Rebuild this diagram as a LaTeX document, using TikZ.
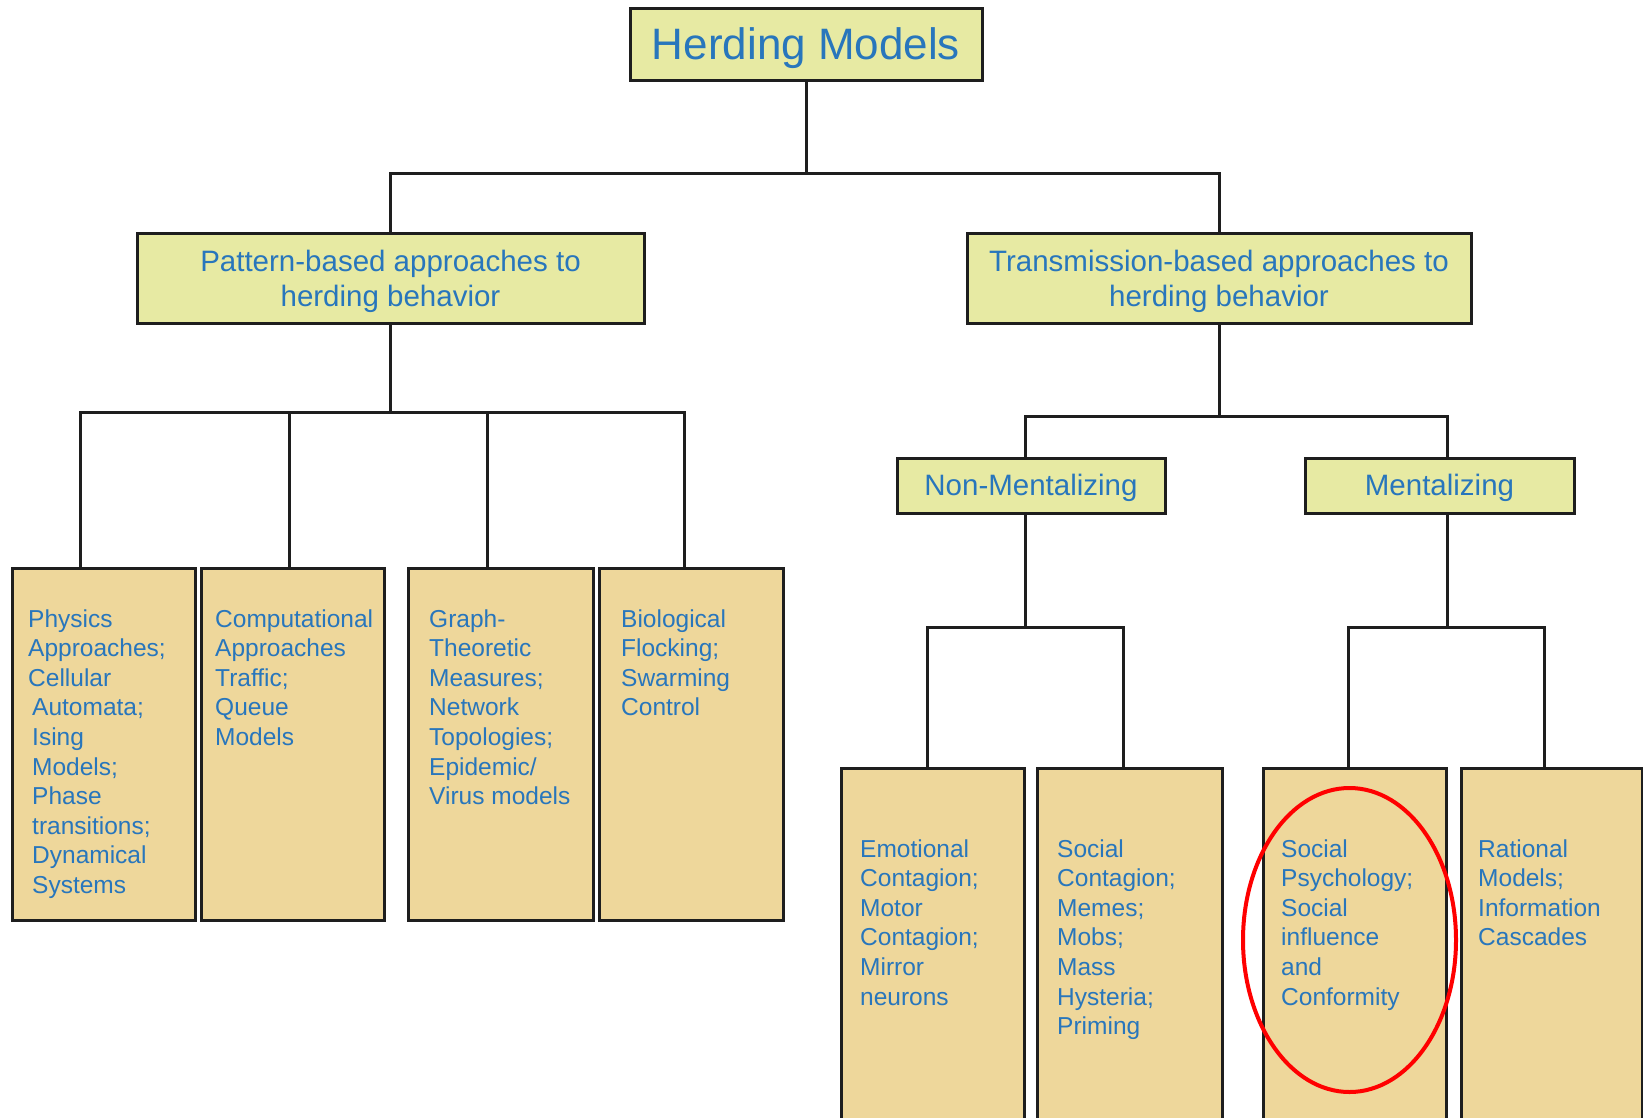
\documentclass[tikz,border=0pt]{standalone}
\usepackage{fontspec}
\setmainfont{Liberation Sans}
\usetikzlibrary{shapes.geometric}
\definecolor{hdrfill}{RGB}{231,234,163}
\definecolor{leaffill}{RGB}{238,215,155}
\definecolor{txtblue}{RGB}{40,118,188}
\definecolor{edge}{RGB}{30,30,30}
\begin{document}
\begin{tikzpicture}[x=1pt,y=-1pt,
  hdr/.style={draw=edge, line width=3pt, fill=hdrfill, inner sep=0pt, text=txtblue, align=center},
  leaf/.style={draw=edge, line width=3pt, fill=leaffill, inner sep=0pt},
  leaftxt/.style={anchor=base west, inner sep=0pt, text=txtblue},
  conn/.style={draw=edge, line width=3pt},
  hfont/.style={font=\fontsize{29.5}{35.5}\selectfont}]
\useasboundingbox (0,0) rectangle (1643,1117);
\clip (0,0) rectangle (1643,1117);
\fill[white] (0,0) rectangle (1643,1117);
\newcommand{\lf}[2]{\parbox[t]{#1}{\raggedright\fontsize{24.5}{29.6}\selectfont #2}}
\newcommand{\dn}[2]{\raisebox{0pt}[\dimexpr\height+#1\relax][\depth]{\begin{tabular}{@{}c@{}}#2\end{tabular}}}

% header boxes
\node[hdr, minimum width=352pt, minimum height=72pt, font=\fontsize{44}{50}\selectfont] (herd) at (806,44) {\dn{10pt}{Herding Models}};
\node[hdr, hfont, minimum width=507pt, minimum height=90pt] (pat) at (390.5,278) {\dn{8pt}{Pattern-based approaches to\\herding behavior}};
\node[hdr, hfont, minimum width=504pt, minimum height=90pt] (trans) at (1219,278) {\dn{8pt}{Transmission-based approaches to\\herding behavior}};
\node[hdr, hfont, minimum width=268pt, minimum height=55pt] (nonm) at (1031,485.5) {\dn{6pt}{Non-Mentalizing}};
\node[hdr, hfont, minimum width=269pt, minimum height=55pt] (ment) at (1439.5,485.5) {\dn{6pt}{Mentalizing}};

% left leaves
\node[leaf, minimum width=183pt, minimum height=352pt] (l1) at (103.5,744) {};
\node[leaf, minimum width=183pt, minimum height=352pt] (l2) at (292.5,744) {};
\node[leaf, minimum width=185pt, minimum height=352pt] (l3) at (500.5,744) {};
\node[leaf, minimum width=184pt, minimum height=352pt] (l4) at (691,744) {};
% right leaves
\node[leaf, minimum width=183pt, minimum height=362pt] (r1) at (932.5,949) {};
\node[leaf, minimum width=185pt, minimum height=362pt] (r2) at (1129.5,949) {};
\node[leaf, minimum width=183pt, minimum height=362pt] (r3) at (1354.5,949) {};
\node[leaf, minimum width=181pt, minimum height=362pt] (r4) at (1551.5,949) {};

% leaf texts
\node[leaftxt] (t1) at (28,627) {\lf{165pt}{Physics\\Approaches;\\Cellular\\\hspace*{4pt}Automata;\\\hspace*{4pt}Ising\\\hspace*{4pt}Models;\\\hspace*{4pt}Phase\\\hspace*{4pt}transitions;\\\hspace*{4pt}Dynamical\\\hspace*{4pt}Systems}};
\node[leaftxt] (t2) at (215,627) {\lf{168pt}{Computational\\Approaches\\Traffic;\\Queue\\Models}};
\node[leaftxt] (t3) at (429,627) {\lf{164pt}{Graph-\\Theoretic\\Measures;\\Network\\Topologies;\\Epidemic/\\Virus models}};
\node[leaftxt] (t4) at (621,627) {\lf{160pt}{Biological\\Flocking;\\Swarming\\Control}};
\node[leaftxt] (t5) at (860,857) {\lf{160pt}{Emotional\\Contagion;\\Motor\\Contagion;\\Mirror\\neurons}};
\node[leaftxt] (t6) at (1057,857) {\lf{160pt}{Social\\Contagion;\\Memes;\\Mobs;\\Mass\\Hysteria;\\Priming}};
\node[leaftxt] (t7) at (1281,857) {\lf{160pt}{Social\\Psychology;\\Social\\influence\\and\\Conformity}};
\node[leaftxt] (t8) at (1478,857) {\lf{160pt}{Rational\\Models;\\Information\\Cascades}};

% junction coordinates
\coordinate (j0) at (806,173);
\coordinate (jp) at (390.5,412);
\coordinate (jt) at (1219,416);
\coordinate (jn) at (1025,627);
\coordinate (jm) at (1447,627);

% connectors
\draw[conn] (herd.south) -- (j0);
\draw[conn] (pat.north) -- (pat.north |- j0) -- (trans.north |- j0) -- (trans.north);

\draw[conn] (pat.south) -- (jp);
\draw[conn] (80,412 |- l1.north) -- (80,412) -- (684,412) -- (684,412 |- l4.north);
\draw[conn] (289,412) -- (289,412 |- l2.north);
\draw[conn] (487,412) -- (487,412 |- l3.north);

\draw[conn] (trans.south) -- (jt);
\draw[conn] (1025,416 |- nonm.north) -- (1025,416) -- (1447,416) -- (1447,416 |- ment.north);

\draw[conn] (1025,416 |- nonm.south) -- (jn);
\draw[conn] (927,627 |- r1.north) -- (927,627) -- (1123,627) -- (1123,627 |- r2.north);

\draw[conn] (1447,416 |- ment.south) -- (jm);
\draw[conn] (1348,627 |- r3.north) -- (1348,627) -- (1544,627) -- (1544,627 |- r4.north);

% red highlight
\node[draw=red, line width=4pt, ellipse, minimum width=213pt, minimum height=304pt, inner sep=0pt] (hl) at (1349.5,940) {};
\end{tikzpicture}
\end{document}
